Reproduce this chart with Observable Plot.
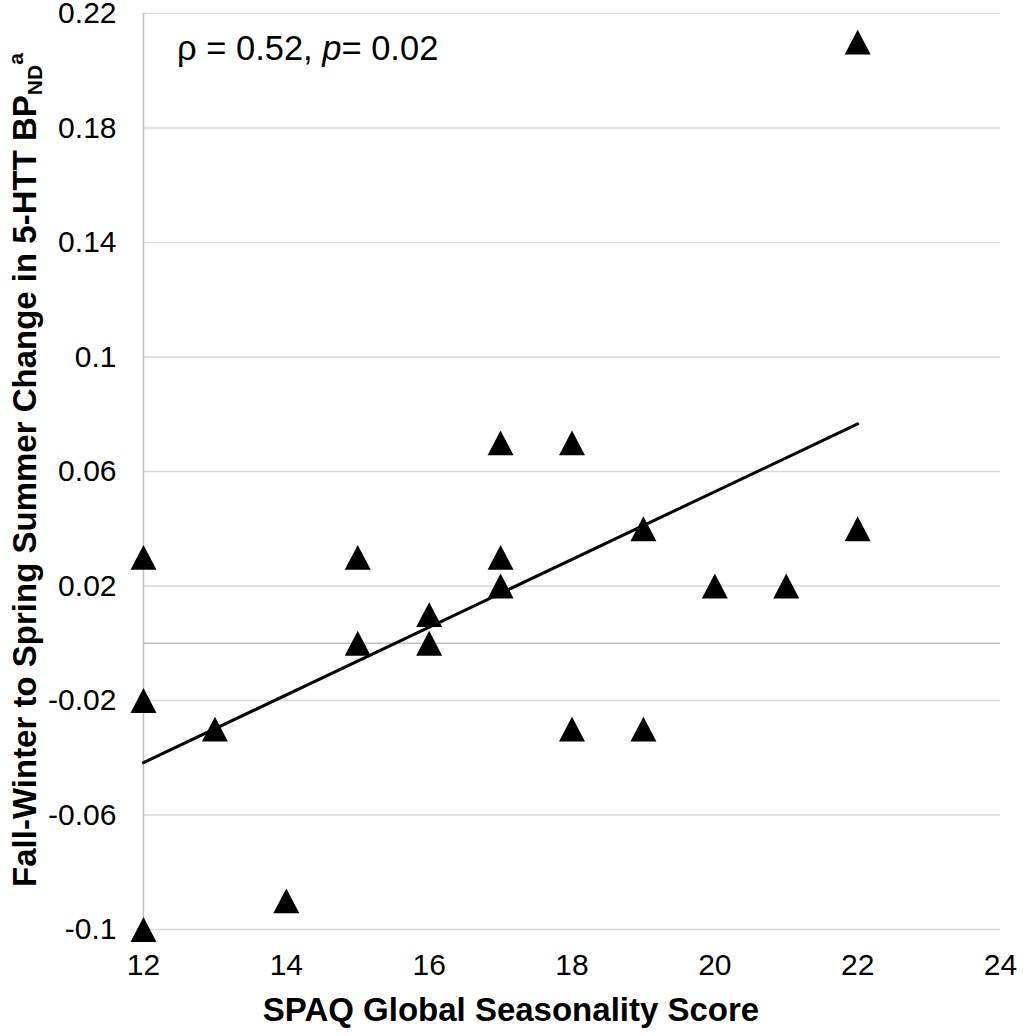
<!DOCTYPE html>
<html>
<head>
<meta charset="utf-8">
<script src="https://cdn.jsdelivr.net/npm/d3@7"></script>
<script src="https://cdn.jsdelivr.net/npm/@observablehq/plot@0.6"></script>
<style>
  html, body { margin: 0; padding: 0; background: #fff; }
  #chart svg { display: block; }
</style>
</head>
<body>
<div id="chart"></div>
<script>
// Data
const seasonalityScores = [12,12,12,13,14,15,15,16,16,17,17,17,18,18,19,19,20,21,22,22];
const bpChanges = [0.03,-0.02,-0.1,-0.03,-0.09,0.03,0,0.01,0,0.07,0.03,0.02,0.07,-0.03,0.04,-0.03,0.02,0.02,0.21,0.04];
const xTicks = [12,14,16,18,20,22,24];
const yTicks = [-0.1,-0.06,-0.02,0.02,0.06,0.1,0.14,0.18,0.22];
const xLabel = "SPAQ Global Seasonality Score";
const yLabelMain = "Fall-Winter to Spring Summer Change in 5-HTT BP";
const yLabelSub = "ND";
const yLabelSup = "a";
const statRho = "ρ = 0.52, ";
const statP = "p";
const statPValue = "= 0.02";

const data = seasonalityScores.map((x, i) => ({x, y: bpChanges[i]}));

const triangle = {
  draw(ctx, size) {
    const r = Math.sqrt(size / Math.PI);
    ctx.moveTo(0, -r * 0.96);
    ctx.lineTo(r, r * 0.96);
    ctx.lineTo(-r, r * 0.96);
    ctx.closePath();
  }
};

const FONT = "'Liberation Sans', Arial, Helvetica, sans-serif";

const chart = Plot.plot({
  width: 1023,
  height: 1036,
  marginLeft: 143,
  marginRight: 23,
  marginTop: 13,
  marginBottom: 107,
  style: {fontFamily: FONT, background: "#fff", color: "#000"},
  x: {domain: [12, 24]},
  y: {domain: [-0.1, 0.22]},
  marks: [
    Plot.gridY(yTicks, {stroke: "#d9d9d9", strokeOpacity: 1, strokeWidth: 1.5}),
    Plot.ruleY([0], {stroke: "#bfbfbf", strokeWidth: 1.5}),
    Plot.ruleX([12], {stroke: "#bfbfbf", strokeWidth: 1.5}),
    Plot.axisY(yTicks, {tickSize: 0, tickPadding: 27, fontSize: 30, label: null,
      tickFormat: d => String(+d.toFixed(2))}),
    Plot.axisX(xTicks, {tickSize: 0, tickPadding: 24, fontSize: 30, label: null,
      tickFormat: d => String(d)}),
    Plot.linearRegressionY(data, {x: "x", y: "y", stroke: "#000", strokeWidth: 3, ci: 0}),
    Plot.dot(data, {x: "x", y: "y", symbol: triangle, r: 13, fill: "#000", stroke: "none"}),
    Plot.text([xLabel], {frameAnchor: "bottom", dx: -61, dy: 81, lineAnchor: "middle",
      fontSize: 33, fontWeight: "bold", fill: "#000"})
  ]
});

document.getElementById("chart").appendChild(chart);

const svg = d3.select(chart);
// y label with subscript and superscript
const yl = svg.append("text")
  .attr("transform", "translate(36,470) rotate(-90)")
  .attr("text-anchor", "middle")
  .attr("font-family", FONT)
  .attr("font-size", 33)
  .attr("font-weight", "bold")
  .attr("fill", "#000");
yl.append("tspan").text(yLabelMain);
yl.append("tspan").attr("font-size", 21).attr("dy", 6).text(yLabelSub);
yl.append("tspan").attr("font-size", 21).attr("dy", -19).text(yLabelSup);

// stats annotation
const st = svg.append("text")
  .attr("x", 177)
  .attr("y", 60)
  .attr("text-anchor", "start")
  .attr("font-family", FONT)
  .attr("font-size", 34.5)
  .attr("fill", "#000");
st.append("tspan").text(statRho);
st.append("tspan").attr("font-style", "italic").text(statP);
st.append("tspan").text(statPValue);
</script>
</body>
</html>
